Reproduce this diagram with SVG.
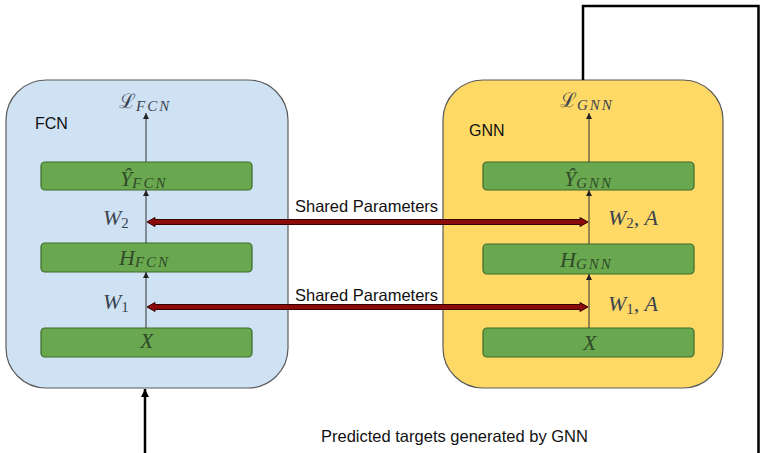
<svg xmlns="http://www.w3.org/2000/svg" width="761" height="453" viewBox="0 0 761 453">
<defs>
<style>
.panel{stroke:#5a5a5a;stroke-width:1.2}
.layer{fill:#6aa84f;stroke:#3d6b2a;stroke-width:1.2}
.lbl{font-family:"Liberation Sans",Arial,sans-serif;fill:#111}
.m{font-family:"Liberation Serif","DejaVu Serif",serif;font-style:italic;font-size:22px;fill:#3a4250}
.mi{font-family:"Liberation Serif","DejaVu Serif",serif;font-style:italic;font-size:22px;fill:#2f4a2a}
.sub{font-size:15px;letter-spacing:2px}
.num{font-size:15px;font-style:normal}
.flow{stroke:#333;stroke-width:1;fill:none;marker-end:url(#small)}
.shared{fill:#8b0a0a;stroke:#3a0000;stroke-width:1}
.loop{stroke:#000;stroke-width:2.5;fill:none}
</style>
<marker id="small" viewBox="0 0 6 6" refX="6" refY="3" markerWidth="6" markerHeight="6" markerUnits="userSpaceOnUse" orient="auto">
<path d="M0,0 L6,3 L0,6 z" fill="#222"/>
</marker>
<marker id="big" viewBox="0 0 12 18" refX="12" refY="6" markerWidth="18" markerHeight="12" markerUnits="userSpaceOnUse" orient="auto">
<path d="M0,0 L12,6 L0,12 z" fill="#000"/>
</marker>
</defs>

<g id="fcn">
<rect class="panel" x="6" y="80" width="282" height="308" rx="40" fill="#cfe2f3"/>
<text class="lbl" x="35" y="129" font-size="16">FCN</text>
<rect class="layer" x="41" y="162" width="211" height="28" rx="4"/>
<rect class="layer" x="41" y="243" width="211" height="29" rx="4"/>
<rect class="layer" x="41" y="328" width="211" height="29" rx="4"/>
<text class="m" x="119" y="108"><tspan font-family="DejaVu Serif,serif" font-style="normal" font-size="20">ℒ</tspan><tspan class="sub" dy="3">FCN</tspan></text>
<text class="mi" x="120" y="186">Ŷ<tspan class="sub" dy="2">FCN</tspan></text>
<text class="mi" x="119" y="265">H<tspan class="sub" dy="2">FCN</tspan></text>
<text class="mi" x="140" y="348">X</text>
<text class="m" x="103" y="225">W<tspan class="num" dy="3">2</tspan></text>
<text class="m" x="103" y="309">W<tspan class="num" dy="3">1</tspan></text>
</g>

<g id="gnn">
<rect class="panel" x="443" y="80" width="280" height="308" rx="40" fill="#ffd966"/>
<text class="lbl" x="469" y="136" font-size="16">GNN</text>
<rect class="layer" x="483" y="162" width="211" height="28" rx="4"/>
<rect class="layer" x="483" y="244" width="211" height="30" rx="4"/>
<rect class="layer" x="483" y="328" width="211" height="29" rx="4"/>
<text class="m" x="560" y="107"><tspan font-family="DejaVu Serif,serif" font-style="normal" font-size="20">ℒ</tspan><tspan class="sub" dy="3">GNN</tspan></text>
<text class="mi" x="564" y="186">Ŷ<tspan class="sub" dy="2">GNN</tspan></text>
<text class="mi" x="560" y="267">H<tspan class="sub" dy="2">GNN</tspan></text>
<text class="mi" x="583" y="350">X</text>
<text class="m" x="608" y="225">W<tspan class="num" dy="3">2</tspan><tspan dy="-3">, A</tspan></text>
<text class="m" x="608" y="311">W<tspan class="num" dy="3">1</tspan><tspan dy="-3">, A</tspan></text>
</g>

<g id="connectors">
<line class="flow" x1="146" y1="328" x2="146" y2="272"/>
<line class="flow" x1="146" y1="243" x2="146" y2="190"/>
<line class="flow" x1="146" y1="162" x2="146" y2="113"/>
<line class="flow" x1="589" y1="328" x2="589" y2="274"/>
<line class="flow" x1="589" y1="244" x2="589" y2="190"/>
<line class="flow" x1="589" y1="162" x2="589" y2="113"/>
<path class="shared" d="M147,222 L155,217.5 L155,219.5 L580,219.5 L580,217.5 L588,222 L580,226.5 L580,224.5 L155,224.5 L155,226.5 Z"/>
<path class="shared" d="M147,307 L155,302.5 L155,304.5 L580,304.5 L580,302.5 L588,307 L580,311.5 L580,309.5 L155,309.5 L155,311.5 Z"/>
<text class="lbl" x="295" y="212" font-size="16.5">Shared Parameters</text>
<text class="lbl" x="295" y="301" font-size="16.5">Shared Parameters</text>
<path class="loop" d="M583,80 L583,6 L758.5,6 L758.5,453"/>
<line class="loop" x1="145" y1="453" x2="145" y2="389" marker-end="url(#big)"/>
<text class="lbl" x="321" y="442" font-size="16.5">Predicted targets generated by GNN</text>
</g>
</svg>
